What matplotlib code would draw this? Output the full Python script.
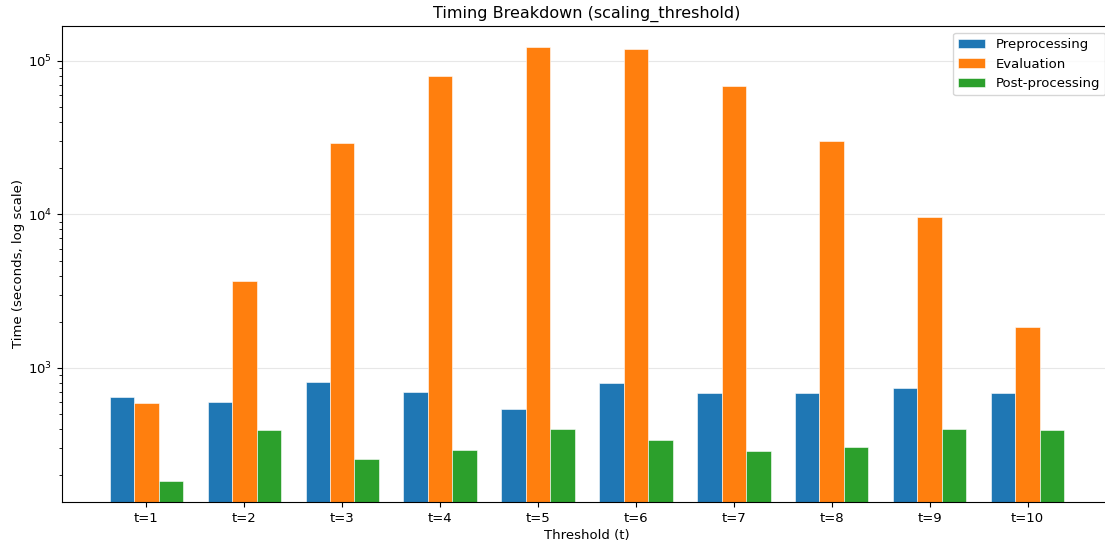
"""Timing breakdown per threshold, log scale bars"""

import numpy as np
import matplotlib
matplotlib.use("Agg")
import matplotlib.pyplot as plt

thresholds = ["t=1", "t=2", "t=3", "t=4", "t=5", "t=6", "t=7", "t=8", "t=9", "t=10"]
preprocessing = [647, 600, 811, 698, 541, 798, 687, 687, 741, 687]
evaluation = [592, 3690, 29200, 79800, 123000, 120000, 68800, 29900, 9560, 1850]
post_processing = [184, 395, 255, 292, 401, 340, 288, 306, 401, 395]

plt.rcParams["font.size"] = 9.55

x = np.arange(len(thresholds))
width = 0.25

fig = plt.figure(figsize=(11.05, 5.46), dpi=100)
ax = fig.add_axes([0.0561, 0.0806, 0.9502, 0.8718])

ax.bar(x - width, preprocessing, width, label="Preprocessing", color="#1f77b4",
       edgecolor="white", linewidth=0.4)
ax.bar(x, evaluation, width, label="Evaluation", color="#ff7f0e",
       edgecolor="white", linewidth=0.4)
ax.bar(x + width, post_processing, width, label="Post-processing", color="#2ca02c",
       edgecolor="white", linewidth=0.4)

ax.set_yscale("log")
ax.set_ylim(134, 169000)
ax.set_xlim(-0.8625, 9.8625)
ax.set_xticks(x)
ax.set_xticklabels(thresholds)
ax.set_xlabel("Threshold (t)", labelpad=3)
ax.set_ylabel("Time (seconds, log scale)", labelpad=2)
ax.set_title("Timing Breakdown (scaling_threshold)", fontsize=11.5)
ax.grid(axis="y", which="major", alpha=0.3)
ax.set_axisbelow(True)
ax.legend(loc="upper right")

fig.savefig("out.png", dpi=100)
